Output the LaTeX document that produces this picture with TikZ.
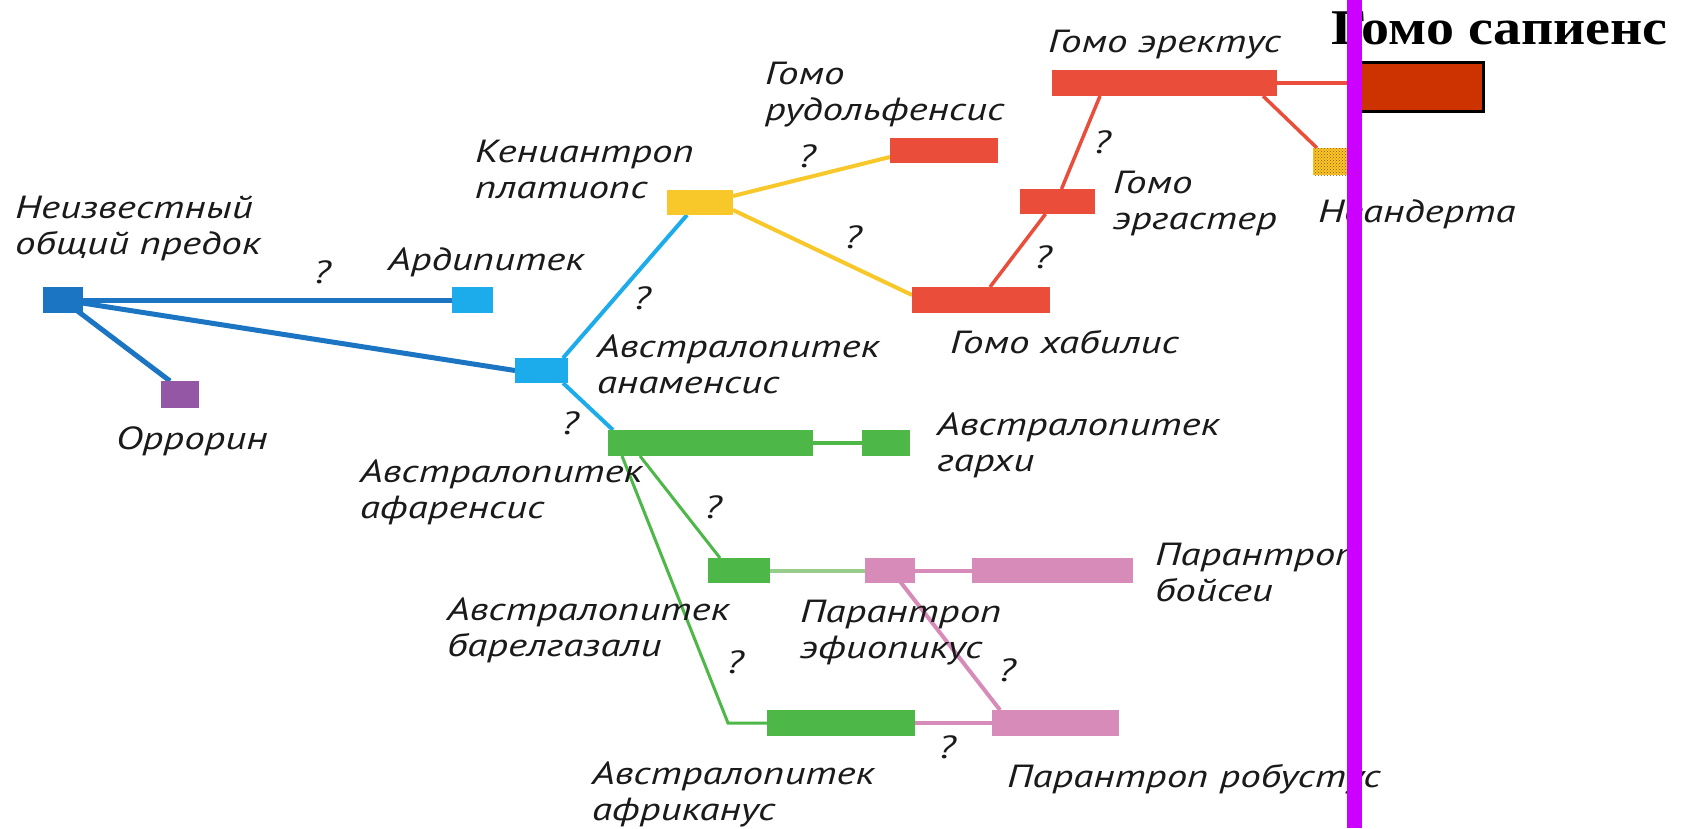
\documentclass[tikz,border=0pt]{standalone}
\usepackage{fontspec}
\usetikzlibrary{calc,patterns}
\newfontfamily\labfont[FakeStretch=1.28]{PT Sans}
\newfontfamily\sapfont[FakeStretch=1.12]{Liberation Serif}
\pgfdeclarelayer{bg}
\pgfsetlayers{bg,main}
\definecolor{dblue}{HTML}{1B75C2}
\definecolor{lblue}{HTML}{1CABEB}
\definecolor{purp}{HTML}{9457A6}
\definecolor{yel}{HTML}{F8C82A}
\definecolor{hred}{HTML}{EA4E3B}
\definecolor{grn}{HTML}{4DB748}
\definecolor{pnk}{HTML}{D68BB8}
\definecolor{lgrn}{HTML}{98CC8A}
\definecolor{mag}{HTML}{CC00FF}
\definecolor{sapred}{HTML}{CC3300}
\definecolor{ink}{HTML}{1A1A1A}
\newcommand\twol[2]{\begin{tabular}[t]{@{}l@{}}#1\\#2\end{tabular}}
\tikzset{
  bar/.style={rectangle, inner sep=0pt, outer sep=0pt, draw=none},
  lab/.style={anchor=base west, inner sep=0pt, outer sep=0pt, text=ink,
    font=\labfont\itshape\fontsize{32}{36}\selectfont},
  qm/.style={inner sep=0pt, outer sep=0pt, text=ink,
    font=\labfont\itshape\fontsize{32}{36}\selectfont},
  bluel/.style={draw=dblue, line width=5pt},
  lbluel/.style={draw=lblue, line width=4pt},
  yell/.style={draw=yel, line width=4pt},
  redl/.style={draw=hred, line width=3.5pt},
  grnl/.style={draw=grn, line width=3pt},
  pnkl/.style={draw=pnk, line width=4pt},
}
\begin{document}
\begin{tikzpicture}[x=1pt, y=-1pt]
\useasboundingbox (0,0) rectangle (1684,828);
\begin{pgfonlayer}{bg}
\fill[white] (0,0) rectangle (1684,828);
\end{pgfonlayer}

% bars
\node[bar, fill=dblue, minimum width=40, minimum height=26] (root) at (63,300) {};
\node[bar, fill=lblue, minimum width=41, minimum height=26] (ardi) at (472.5,300) {};
\node[bar, fill=purp, minimum width=38, minimum height=27] (orr) at (180,394.5) {};
\node[bar, fill=lblue, minimum width=53, minimum height=25] (anam) at (541.5,370.5) {};
\node[bar, fill=yel, minimum width=66, minimum height=25] (kenya) at (700,202.5) {};
\node[bar, fill=hred, minimum width=108, minimum height=25] (rudolf) at (944,150.5) {};
\node[bar, fill=hred, minimum width=138, minimum height=26] (habilis) at (981,300) {};
\node[bar, fill=hred, minimum width=75, minimum height=25] (erg) at (1057.5,201.5) {};
\node[bar, fill=hred, minimum width=225, minimum height=26] (erect) at (1164.5,83) {};
\node[bar, fill=yel, minimum width=42, minimum height=27] (neand) at (1334,161.5) {};
\fill[pattern=crosshatch dots, pattern color=orange!60!black] (neand.south west) rectangle (neand.north east);
\node[bar, fill=grn, minimum width=205, minimum height=26] (afar) at (710.5,443) {};
\node[bar, fill=grn, minimum width=48, minimum height=26] (garhi) at (886,443) {};
\node[bar, fill=grn, minimum width=62, minimum height=25] (bahr) at (739,570.5) {};
\node[bar, fill=pnk, minimum width=50, minimum height=25] (aeth) at (890,570.5) {};
\node[bar, fill=pnk, minimum width=161, minimum height=25] (boisei) at (1052.5,570.5) {};
\node[bar, fill=grn, minimum width=148, minimum height=26] (afr) at (841,723) {};
\node[bar, fill=pnk, minimum width=127, minimum height=26] (rob) at (1055.5,723) {};
\node[bar, fill=sapred, draw=black, line width=3pt, minimum width=131, minimum height=49] (sap) at (1417.5,86.5) {};

% connectors
\begin{pgfonlayer}{bg}
\draw[bluel] (root.center) -- (ardi.west);
\draw[bluel] (root.center) -- (anam.west);
\draw[bluel] (root.center) -- ($(orr.north west)+(9,0)$);
\draw[lbluel] ($(anam.north east)+(-5,0)$) -- ($(kenya.south west)+(20,0)$);
\draw[lbluel] ($(anam.south east)+(-5,0)$) -- ($(afar.north west)+(5,0)$);
\draw[yell] ($(kenya.north east)+(0,6)$) -- ($(rudolf.south west)+(0,-6)$);
\draw[yell] ($(kenya.south east)+(0,-5)$) -- ($(habilis.west)+(0,-5)$);
\draw[redl] ($(habilis.north)+(9,0)$) -- ($(erg.south)+(-12,0)$);
\draw[redl] ($(erg.north)+(4,0)$) -- ($(erect.south west)+(48,0)$);
\draw[redl] (erect.east) -- (erect.east -| sap.west);
\draw[redl] ($(erect.south east)+(-14,0)$) -- ($(neand.north west)+(4,0)$);
\draw[draw=grn, line width=4pt] (afar.east) -- (garhi.west);
\draw[grnl] ($(afar.south west)+(32,0)$) -- ($(bahr.north west)+(12,0)$);
\draw[grnl] ($(afar.south west)+(14,0)$) -- ($(afr.west)+(-39,0)$) -- (afr.west);
\draw[draw=lgrn, line width=4pt] (bahr.east) -- (aeth.west);
\draw[pnkl] (aeth.east) -- (boisei.west);
\draw[pnkl] ($(aeth.center)+(7,7)$) -- ($(rob.north west)+(8,0)$);
\draw[pnkl] (afr.east) -- (rob.west);
\end{pgfonlayer}

% labels
\node[lab] (lroot) at (15,218) {\twol{Неизвестный}{общий предок}};
\node[lab] (lardi) at (388,270) {Ардипитек};
\node[lab] (lorr) at (116,449) {Оррорин};
\node[lab] (lkenya) at (475,162) {\twol{Кениантроп}{платиопс}};
\node[lab] (lanam) at (597,357) {\twol{Австралопитек}{анаменсис}};
\node[lab] (lrudolf) at (765,84) {\twol{Гомо}{рудольфенсис}};
\node[lab] (lerect) at (1048,52) {Гомо эректус};
\node[lab] (lerg) at (1113,193) {\twol{Гомо}{эргастер}};
\node[lab] (lhab) at (950,353) {Гомо хабилис};
\node[lab] (lneand) at (1318,222) {Неандерта};
\node[lab] (lafar) at (360,482) {\twol{Австралопитек}{афаренсис}};
\node[lab] (lgarhi) at (937,435) {\twol{Австралопитек}{гархи}};
\node[lab] (lbahr) at (447,620) {\twol{Австралопитек}{барелгазали}};
\node[lab] (laeth) at (800,622) {\twol{Парантроп}{эфиопикус}};
\node[lab] (lboisei) at (1155,565) {\twol{Парантроп}{бойсеи}};
\node[lab] (lafr) at (592,784) {\twol{Австралопитек}{африканус}};
\node[lab] (lrob) at (1007,787) {Парантроп робустус};

% question marks
\node[qm] (q1) at (322,272) {?};
\node[qm] (q2) at (642,298) {?};
\node[qm] (q3) at (570,423) {?};
\node[qm] (q4) at (807,156) {?};
\node[qm] (q5) at (853,237) {?};
\node[qm] (q6) at (1043,257) {?};
\node[qm] (q7) at (1102,142) {?};
\node[qm] (q8) at (713,507) {?};
\node[qm] (q9) at (735,662) {?};
\node[qm] (q10) at (1007,670) {?};
\node[qm] (q11) at (947,747) {?};

% Homo sapiens
\node[anchor=base west, inner sep=0pt, font=\sapfont\bfseries\fontsize{50}{56}\selectfont] (lsap) at (1331,44) {Гомо сапиенс};

% magenta line
\fill[mag] (1347,0) rectangle (1362,828);
\end{tikzpicture}
\end{document}
